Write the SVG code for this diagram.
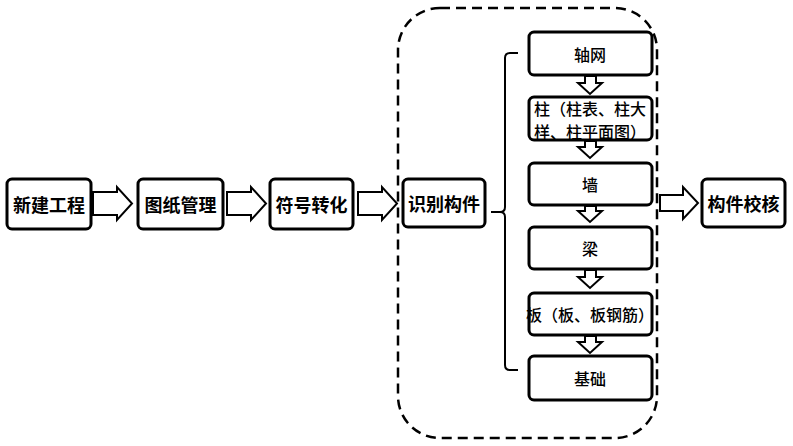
<svg xmlns="http://www.w3.org/2000/svg" width="793" height="446" viewBox="0 0 793 446">
<style>
.box{fill:#fff;stroke:#000;stroke-width:3}
.arr{fill:#fff;stroke:#000;stroke-width:2;stroke-linejoin:miter}
.tb{font-family:"Noto Sans CJK SC","Noto Sans",sans-serif;font-weight:bold;font-size:18px;text-anchor:middle;dominant-baseline:central;fill:#000}
.tn{font-family:"Noto Sans CJK SC","Noto Sans",sans-serif;font-weight:500;font-size:16px;text-anchor:middle;dominant-baseline:central;fill:#000}
</style>
<rect width="793" height="446" fill="#fff"/>
<rect x="398" y="8" width="259" height="430" rx="42" ry="42" fill="none" stroke="#000" stroke-width="2.5" stroke-dasharray="10 6"/>
<g id="connectors">
<path class="arr" d="M93,192 H117 V187 L132,203.5 L117,220 V215 H93 Z"/>
<path class="arr" d="M227,192 H251 V187 L266,203.5 L251,220 V215 H227 Z"/>
<path class="arr" d="M358,192 H382 V187 L397,203.5 L382,220 V215 H358 Z"/>
<path class="arr" d="M660,195 H683 V187 L698,203 L683,219 V211 H660 Z"/>
<path class="arr" d="M585,76 H596 V83 H602 L590,94 L578,83 H585 Z"/>
<path class="arr" d="M585,141 H596 V147 H602 L590,158 L578,147 H585 Z"/>
<path class="arr" d="M585,206 H596 V211 H602 L590,222 L578,211 H585 Z"/>
<path class="arr" d="M585,270 H596 V277 H602 L590,288 L578,277 H585 Z"/>
<path class="arr" d="M585,336 H596 V342 H602 L590,353 L578,342 H585 Z"/>
<path d="M518,53 H510 Q505,53 505,58 V207 Q505,212 500,212 H491 M500,212 Q505,212 505,217 V365 Q505,370 510,370 H518" fill="none" stroke="#000" stroke-width="2"/>
</g>
<g id="n1"><rect class="box" x="7" y="179" width="84" height="50" rx="5"/><text class="tb" x="49" y="204">新建工程</text></g>
<g id="n2"><rect class="box" x="138" y="179" width="85" height="50" rx="5"/><text class="tb" x="180.5" y="204">图纸管理</text></g>
<g id="n3"><rect class="box" x="270" y="179" width="83" height="50" rx="5"/><text class="tb" x="311.5" y="204">符号转化</text></g>
<g id="n4"><rect class="box" x="403" y="179" width="82" height="48" rx="5"/><text class="tb" x="444" y="203">识别构件</text></g>
<g id="n5"><rect class="box" x="702" y="179" width="83" height="48" rx="5"/><text class="tb" x="743.5" y="203">构件校核</text></g>
<g id="c1"><rect class="box" x="529" y="32" width="123" height="43" rx="5"/><text class="tn" x="590" y="54">轴网</text></g>
<g id="c2"><rect class="box" x="529" y="97" width="123" height="43" rx="5"/><text class="tn" x="590" y="108">柱（柱表、柱大</text><text class="tn" x="590" y="131">样、柱平面图）</text></g>
<g id="c3"><rect class="box" x="529" y="163" width="123" height="42" rx="5"/><text class="tn" x="590" y="184">墙</text></g>
<g id="c4"><rect class="box" x="529" y="227" width="123" height="42" rx="5"/><text class="tn" x="590" y="248">梁</text></g>
<g id="c5"><rect class="box" x="529" y="293" width="123" height="42" rx="5"/><text class="tn" x="590" y="314">板（板、板钢筋）</text></g>
<g id="c6"><rect class="box" x="529" y="356" width="123" height="44" rx="5"/><text class="tn" x="590" y="378">基础</text></g>
</svg>
